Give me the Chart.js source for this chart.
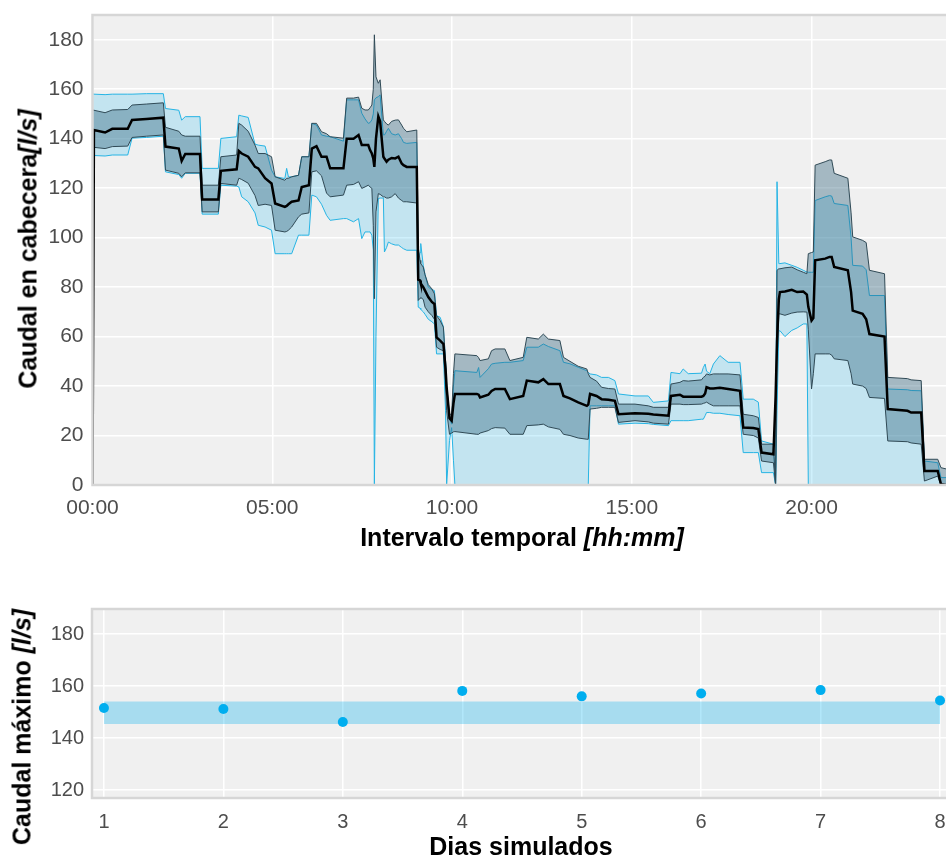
<!DOCTYPE html>
<html>
<head>
<meta charset="utf-8">
<script src="https://cdn.jsdelivr.net/npm/chart.js@4.4.1/dist/chart.umd.min.js"></script>
<style>
  html, body { margin: 0; padding: 0; background: #fff; }
  #page { position: relative; width: 946px; height: 858px; overflow: hidden; font-family: "Liberation Sans", Arial, sans-serif; }
  canvas { position: absolute; left: 0; }
  .title { position: absolute; font-weight: bold; font-size: 25px; color: #000; white-space: nowrap; transform: translate(-50%, -50%); }
  .title.rot { transform: translate(-50%, -50%) rotate(-90deg); }
</style>
</head>
<body>
<div id="page">
  <canvas id="flowChart" width="946" height="525" style="top:0;width:946px;height:525px"></canvas>
  <canvas id="maxChart" width="946" height="268" style="top:590px;width:946px;height:268px"></canvas>
  <div class="title rot" style="left:28px;top:249px">Caudal en cabecera<i>[l/s]</i></div>
  <div class="title" style="left:522px;top:537px">Intervalo temporal <i>[hh:mm]</i></div>
  <div class="title rot" style="left:22px;top:727px">Caudal máximo <i>[l/s]</i></div>
  <div class="title" style="left:521px;top:846px">Dias simulados</div>
</div>
<script>
// hours of the day (decimal)
const hours = [
  0, 0.04, 0.35, 0.55, 0.98, 1.10, 1.50, 1.97, 2.03, 2.40,
  2.48, 2.58, 2.99, 3.05, 3.50, 3.57, 4.01, 4.07, 4.15, 4.33,
  4.52, 4.61, 4.80, 4.98, 5.08, 5.35, 5.40, 5.45, 5.54, 5.73,
  5.82, 6.02, 6.10, 6.23, 6.37, 6.51, 6.61, 6.98, 7.07, 7.26,
  7.40, 7.49, 7.58, 7.67, 7.72, 7.77, 7.81, 7.84, 7.885, 7.95,
  8.00, 8.09, 8.12, 8.18, 8.23, 8.32, 8.42, 8.51, 8.60, 8.65,
  8.74, 9.02, 9.06, 9.11, 9.13, 9.20, 9.25, 9.34, 9.44, 9.51,
  9.57, 9.67, 9.76, 9.82, 9.85, 9.93, 9.99, 10.04, 10.08, 10.69,
  10.74, 10.78, 11.01, 11.10, 11.20, 11.47, 11.61, 11.98, 12.08, 12.40,
  12.54, 12.68, 13.00, 13.10, 13.28, 13.51, 13.75, 13.79, 13.84, 14.02,
  14.16, 14.35, 14.53, 14.63, 15.09, 15.46, 15.60, 16.02, 16.09, 16.34,
  16.43, 16.57, 16.94, 16.99, 17.04, 17.08, 17.17, 17.27, 17.45, 17.68,
  18.01, 18.10, 18.38, 18.52, 18.61, 18.94, 19.00, 19.04, 19.09, 19.12,
  19.26, 19.45, 19.60, 19.77, 19.87, 19.91, 20.00, 20.05, 20.10, 20.38,
  20.50, 20.56, 20.63, 21.01, 21.10, 21.145, 21.42, 21.52, 21.61, 22.03,
  22.12, 22.67, 22.77, 23.05, 23.14, 23.51, 23.60, 23.74
];

const meanFlow = [
  0, 143.5, 142.5, 144.0, 144.0, 147.6, 148.0, 148.5, 136.8, 136.0,
  131.0, 133.8, 133.8, 115.4, 115.4, 127.0, 127.6, 135.0, 134.0, 132.7,
  128.6, 128.0, 124.0, 121.9, 113.8, 112.4, 112.8, 113.5, 114.5, 115.0,
  120.5, 121.2, 136.0, 137.0, 132.7, 132.7, 128.0, 128.0, 140.0, 140.0,
  141.5, 137.4, 137.4, 137.4, 135.4, 134.0, 132.0, 128.6, 140.0, 149.0,
  147.0, 132.7, 132.0, 130.7, 131.5, 132.2, 132.0, 132.7, 130.0, 129.3,
  128.6, 128.6, 83.0, 82.7, 81.5, 80.0, 78.6, 76.0, 74.0, 73.2,
  59.7, 58.4, 57.0, 47.0, 39.5, 27.0, 26.0, 33.0, 36.8, 36.8,
  36.5, 35.4, 36.5, 38.0, 38.8, 38.8, 34.7, 36.0, 42.2, 41.5,
  42.8, 40.8, 40.8, 36.0, 35.0, 33.4, 32.0, 32.5, 36.8, 36.0,
  34.7, 34.5, 34.0, 28.6, 29.0, 28.8, 28.5, 28.0, 36.0, 36.5,
  35.7, 35.7, 35.7, 36.0, 37.0, 39.5, 39.0, 39.0, 39.3, 38.8,
  38.1, 23.2, 23.0, 22.6, 13.1, 12.4, 35.6, 58.0, 75.0, 78.0,
  78.2, 78.9, 78.0, 78.2, 77.0, 72.0, 66.5, 67.5, 90.8, 91.5,
  92.2, 92.2, 88.1, 86.8, 78.0, 70.5, 69.2, 67.0, 61.0, 60.0,
  30.7, 30.0, 29.3, 29.3, 5.7, 5.7, 0.3, 0
];

// dark band
const grayLow = [
  136.8, 136.5, 136.0, 136.8, 137.0, 140.5, 141.0, 141.5, 127.3, 126.0,
  124.6, 126.2, 126.2, 110.4, 110.4, 121.9, 121.2, 124.0, 123.5, 122.0,
  117.0, 113.0, 113.5, 113.0, 103.0, 102.3, 102.5, 103.0, 104.3, 108.4,
  109.5, 110.0, 126.6, 127.0, 125.0, 118.0, 116.5, 117.2, 121.2, 121.5,
  122.6, 119.9, 120.5, 121.2, 120.5, 119.9, 105.0, 75.3, 110.4, 117.8,
  117.5, 116.5, 116.5, 116.0, 116.0, 116.5, 117.8, 116.0, 115.0, 114.5,
  114.5, 114.0, 74.6, 75.5, 75.8, 75.0, 71.9, 70.0, 68.5, 67.0,
  55.7, 54.8, 54.3, 40.0, 30.0, 20.5, 21.0, 21.5, 21.6, 20.5,
  20.5, 21.0, 22.0, 22.8, 23.2, 23.0, 20.5, 20.5, 24.0, 24.3,
  24.6, 23.5, 22.5, 20.5, 20.0, 19.0, 18.5, 18.5, 30.7, 31.0,
  31.4, 31.4, 31.4, 25.3, 26.0, 25.5, 25.0, 24.6, 32.7, 32.7,
  32.5, 32.5, 32.7, 33.0, 33.2, 33.5, 32.7, 32.0, 32.0, 32.0,
  32.0, 20.5, 20.0, 19.0, 9.7, 9.0, 0, 50.0, 69.2, 69.2,
  68.6, 69.5, 69.9, 70.0, 69.9, 63.0, 38.8, 45.0, 53.0, 53.0,
  53.0, 52.5, 51.0, 50.3, 45.0, 40.8, 40.0, 39.0, 35.4, 35.0,
  17.8, 17.5, 17.0, 16.5, 1.6, 3.6, 0, 0
];

const grayHigh = [
  151.6, 151.5, 150.5, 151.6, 151.8, 153.6, 154.0, 154.5, 144.6, 143.0,
  141.5, 141.0, 141.0, 121.2, 121.2, 132.7, 133.4, 146.2, 145.5, 143.0,
  137.4, 134.0, 134.0, 132.7, 124.6, 123.2, 124.0, 124.0, 124.6, 125.2,
  132.7, 132.7, 146.2, 146.2, 142.8, 142.0, 140.8, 140.2, 156.4, 156.4,
  156.8, 152.3, 151.6, 151.6, 152.5, 153.6, 160.0, 182.0, 165.0, 162.4,
  163.8, 147.6, 147.0, 146.0, 145.5, 147.0, 147.5, 147.6, 145.5, 144.2,
  142.8, 143.5, 96.2, 90.8, 89.5, 88.1, 85.0, 81.0, 79.3, 77.3,
  68.5, 66.5, 63.8, 50.0, 40.0, 28.6, 28.6, 45.0, 53.0, 52.3,
  51.5, 50.3, 51.0, 54.3, 55.0, 55.0, 50.3, 51.6, 59.7, 59.0,
  61.0, 59.0, 58.4, 51.6, 50.0, 48.0, 46.9, 45.0, 43.5, 42.0,
  39.5, 39.0, 38.8, 32.7, 32.7, 32.0, 31.4, 31.4, 40.8, 41.5,
  42.2, 42.0, 42.5, 43.5, 44.0, 44.9, 44.5, 44.9, 44.9, 44.9,
  44.5, 28.6, 28.0, 27.3, 16.5, 16.5, 0, 86.8, 87.4, 87.4,
  87.8, 88.1, 87.0, 86.0, 85.4, 93.5, 94.0, 94.2, 129.3, 130.7,
  131.4, 131.4, 126.0, 124.0, 110.0, 100.3, 98.9, 98.0, 86.8, 85.4,
  43.5, 43.0, 42.5, 42.2, 10.4, 10.4, 7.0, 6.5
];

// light blue band
const blueLow = [
  133.4, 133.2, 133.0, 133.4, 133.4, 140.2, 140.5, 141.0, 126.6, 125.5,
  124.0, 126.0, 126.0, 109.5, 109.5, 121.2, 120.8, 120.5, 116.5, 114.5,
  110.0, 105.0, 104.3, 103.0, 93.5, 93.5, 93.5, 93.5, 93.5, 101.0,
  101.0, 101.0, 117.2, 116.5, 113.5, 109.0, 107.0, 107.7, 107.7, 106.4,
  107.7, 99.6, 102.3, 102.3, 102.3, 101.0, 95.0, 0, 60.0, 115.8,
  116.0, 116.0, 94.2, 96.0, 98.2, 97.5, 97.0, 97.0, 96.0, 95.5,
  94.9, 94.9, 71.9, 71.5, 71.0, 70.0, 69.0, 67.0, 66.0, 65.1,
  53.0, 53.0, 53.0, 30.0, 0, 18.0, 23.2, 10.0, 0, 0,
  0, 0, 0, 0, 0, 0, 0, 0, 0, 0,
  0, 0, 0, 0, 0, 0, 0, 0, 32.0, 32.0,
  32.0, 32.0, 32.0, 24.6, 25.0, 24.8, 24.5, 24.0, 26.0, 26.0,
  26.0, 26.0, 26.6, 26.6, 28.0, 29.3, 29.3, 29.0, 29.0, 28.5,
  28.0, 13.1, 13.1, 13.1, 5.0, 5.0, 0, 30.0, 62.0, 62.4,
  60.0, 62.5, 63.5, 65.1, 65.1, 0, 0, 0, 0, 0,
  0, 0, 0, 0, 0, 0, 0, 0, 0, 0,
  0, 0, 0, 0, 0, 0, 0, 0
];

const blueHigh = [
  158.1, 158.0, 157.8, 158.0, 158.0, 158.0, 158.2, 158.2, 152.2, 151.5,
  147.5, 148.9, 148.9, 128.0, 128.0, 140.1, 140.8, 149.5, 149.2, 148.6,
  137.8, 137.4, 137.0, 127.3, 124.6, 123.9, 128.0, 124.5, 124.6, 125.2,
  132.7, 132.7, 146.2, 145.5, 141.5, 141.0, 140.8, 139.0, 155.7, 155.7,
  155.7, 150.3, 148.0, 146.2, 146.5, 147.6, 150.0, 155.7, 156.5, 157.0,
  157.7, 141.5, 141.5, 143.0, 144.2, 142.0, 141.5, 142.0, 140.0, 138.5,
  138.1, 138.5, 90.0, 94.0, 97.6, 88.8, 85.0, 80.0, 79.0, 78.6,
  68.5, 67.8, 64.0, 50.0, 40.0, 27.0, 24.6, 40.0, 46.2, 45.5,
  47.5, 43.5, 47.0, 48.9, 49.2, 49.6, 49.6, 50.3, 55.7, 55.7,
  57.0, 56.0, 54.3, 49.6, 49.0, 47.6, 46.2, 45.5, 44.9, 44.5,
  43.5, 43.5, 42.2, 36.8, 36.0, 36.0, 33.4, 34.0, 45.5, 45.0,
  46.9, 45.0, 45.2, 47.5, 48.9, 46.0, 45.0, 48.9, 52.3, 49.6,
  49.6, 34.7, 34.7, 33.5, 17.8, 16.5, 0, 122.6, 89.5, 89.5,
  89.8, 88.8, 88.0, 86.8, 86.1, 86.0, 86.0, 86.0, 115.0, 116.5,
  117.0, 116.8, 113.8, 113.0, 100.0, 88.8, 88.5, 87.0, 76.6, 76.6,
  38.8, 38.5, 38.2, 38.1, 9.7, 9.0, 3.0, 3.0
];

// lower chart
const days = [1, 2, 3, 4, 5, 6, 7, 8];
const maxFlow = [151.6, 151.2, 146.2, 158.2, 156.1, 157.2, 158.5, 154.5];
const bandDays = [1, 8];
const bandLow = [145.5, 145.5];
const bandHigh = [154.1, 154.1];

const hourTicks = [0, 5, 10, 15, 20];

const tickFont = { family: 'Liberation Sans', size: 21 };
const tickGray = '#4D4D4D';
const blueLine = 'rgb(38,180,228)';
const grayLine = 'rgb(48,74,86)';

const panel = {
  id: 'panel',
  beforeDraw(chart) {
    const { ctx, chartArea: a } = chart;
    ctx.save();
    ctx.fillStyle = '#F0F0F0';
    ctx.fillRect(a.left, a.top, a.right - a.left, a.bottom - a.top);
    ctx.restore();
  },
  afterDraw(chart) {
    const { ctx, chartArea: a } = chart;
    ctx.save();
    ctx.strokeStyle = '#D6D6D6';
    ctx.lineWidth = 2.5;
    ctx.beginPath();
    ctx.moveTo(a.right + 5, a.top);
    ctx.lineTo(a.left, a.top);
    ctx.lineTo(a.left, a.bottom);
    ctx.lineTo(a.right + 5, a.bottom);
    ctx.stroke();
    ctx.restore();
  }
};

// fixed axis sizes, no extra label padding
function fixSize(w, h) {
  return s => {
    if (w !== null) s.width = w;
    if (h !== null) s.height = h;
    s.paddingTop = 0;
    s.paddingBottom = 0;
    s.paddingLeft = 0;
    s.paddingRight = 0;
  };
}

function pts(xs, ys) {
  return xs.map((x, i) => ({ x: x, y: ys[i] }));
}

function line(ys, color, width, fill, bg, order) {
  return {
    data: pts(hours, ys),
    borderColor: color,
    borderWidth: width,
    pointRadius: 0,
    fill: fill,
    backgroundColor: bg,
    order: order
  };
}

new Chart(document.getElementById('flowChart'), {
  type: 'line',
  data: {
    datasets: [
      line(blueLow, blueLine, 1, false, 'transparent', 3),
      line(blueHigh, blueLine, 1, '-1', 'rgba(0,174,239,0.19)', 3),
      line(grayLow, grayLine, 1, false, 'transparent', 2),
      line(grayHigh, grayLine, 1, '-1', 'rgba(50,100,125,0.4)', 2),
      line(meanFlow, '#000000', 2.5, false, 'transparent', 1)
    ]
  },
  options: {
    responsive: false,
    animation: false,
    events: [],
    layout: { autoPadding: false, padding: { top: 15, left: 0, right: 0, bottom: 0 } },
    elements: { line: { tension: 0 } },
    plugins: { legend: { display: false }, tooltip: { enabled: false } },
    scales: {
      x: {
        type: 'linear',
        min: 0,
        max: 23.74,
        afterFit: fixSize(null, 40),
        border: { display: false },
        grid: { color: '#FFFFFF', lineWidth: 1.5, drawTicks: false },
        afterBuildTicks: s => { s.ticks = hourTicks.map(v => ({ value: v })); },
        ticks: {
          font: tickFont,
          color: tickGray,
          padding: 11,
          maxRotation: 0,
          autoSkip: false,
          callback: v => (v < 10 ? '0' : '') + v + ':00'
        }
      },
      y: {
        min: 0,
        max: 190,
        afterFit: fixSize(92.5, null),
        border: { display: false },
        grid: { color: '#FFFFFF', lineWidth: 1.5, drawTicks: false },
        ticks: { stepSize: 20, includeBounds: false, font: tickFont, color: tickGray, padding: 9 }
      }
    }
  },
  plugins: [panel]
});

new Chart(document.getElementById('maxChart'), {
  type: 'line',
  data: {
    datasets: [
      { data: pts(bandDays, bandLow), borderWidth: 0, pointRadius: 0, fill: false, order: 2 },
      { data: pts(bandDays, bandHigh), borderWidth: 0, pointRadius: 0, fill: '-1',
        backgroundColor: 'rgba(0,174,239,0.3)', order: 2 },
      { data: pts(days, maxFlow), showLine: false, pointRadius: 5, pointBorderWidth: 0,
        pointBackgroundColor: '#00AEEF', borderColor: '#00AEEF', order: 1 }
    ]
  },
  options: {
    responsive: false,
    animation: false,
    events: [],
    layout: { autoPadding: false, padding: { top: 19, left: 0, right: 0, bottom: 0 } },
    plugins: { legend: { display: false }, tooltip: { enabled: false } },
    scales: {
      x: {
        type: 'linear',
        min: 0.9,
        max: 8.05,
        afterFit: fixSize(null, 60),
        border: { display: false },
        grid: { color: '#FFFFFF', lineWidth: 1.5, drawTicks: false },
        ticks: { stepSize: 1, includeBounds: false, font: { family: 'Liberation Sans', size: 20 },
                 color: tickGray, padding: 12, maxRotation: 0, autoSkip: false }
      },
      y: {
        min: 117,
        max: 189.7,
        afterFit: fixSize(92, null),
        border: { display: false },
        grid: { color: '#FFFFFF', lineWidth: 1.5, drawTicks: false },
        ticks: { stepSize: 20, includeBounds: false, font: { family: 'Liberation Sans', size: 20 },
                 color: tickGray, padding: 8 }
      }
    }
  },
  plugins: [panel]
});
</script>
</body>
</html>
